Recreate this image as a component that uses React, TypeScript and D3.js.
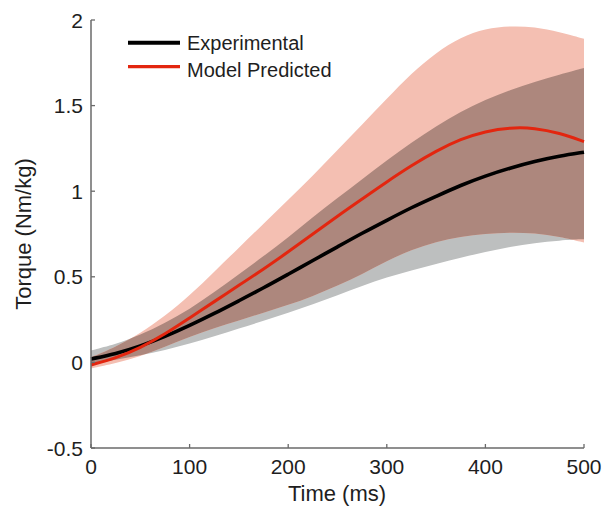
import React from "react";
import * as d3 from "d3";

const times = [0, 25, 50, 75, 100, 125, 150, 175, 200, 225, 250, 275, 300, 325, 350, 375, 400, 425, 450, 475, 500];
const expMean = [0.02, 0.05, 0.095, 0.15, 0.215, 0.285, 0.36, 0.435, 0.515, 0.595, 0.675, 0.755, 0.83, 0.905, 0.97, 1.035, 1.09, 1.135, 1.175, 1.205, 1.228];
const expUpper = [0.07, 0.105, 0.16, 0.23, 0.31, 0.41, 0.515, 0.62, 0.73, 0.85, 0.96, 1.07, 1.18, 1.285, 1.38, 1.465, 1.535, 1.59, 1.64, 1.68, 1.72];
const expLower = [-0.01, 0.015, 0.04, 0.072, 0.11, 0.152, 0.198, 0.243, 0.29, 0.34, 0.392, 0.447, 0.498, 0.538, 0.575, 0.612, 0.645, 0.675, 0.698, 0.712, 0.72];
const modelMean = [-0.015, 0.025, 0.085, 0.165, 0.26, 0.355, 0.45, 0.545, 0.645, 0.75, 0.855, 0.955, 1.055, 1.15, 1.235, 1.305, 1.35, 1.372, 1.37, 1.34, 1.29];
const modelUpper = [0.03, 0.09, 0.17, 0.27, 0.39, 0.53, 0.67, 0.81, 0.95, 1.09, 1.24, 1.39, 1.54, 1.69, 1.81, 1.9, 1.95, 1.965, 1.96, 1.93, 1.89];
const modelLower = [-0.035, -0.005, 0.035, 0.09, 0.15, 0.2, 0.245, 0.29, 0.335, 0.387, 0.448, 0.515, 0.593, 0.658, 0.705, 0.735, 0.752, 0.76, 0.755, 0.735, 0.7];

const xTicks = [0, 100, 200, 300, 400, 500];
const yTicks = [-0.5, 0, 0.5, 1, 1.5, 2];
const legendLabels = ["Experimental", "Model Predicted"];

const FONT = "'Liberation Sans', Arial, Helvetica, sans-serif";
const AXIS = "#6a6a6a";
const TEXT = "#1e1e1e";

export default function App() {
  const x = d3.scaleLinear().domain([0, 500]).range([91, 584]);
  const y = d3.scaleLinear().domain([-0.5, 2]).range([448, 20]);
  const idx = times.map((_, i) => i);
  const curve = d3.curveBasis;

  const band = (lo: number[], hi: number[]) =>
    d3.area<number>()
      .x((i) => x(times[i]))
      .y0((i) => y(lo[i]))
      .y1((i) => y(hi[i]))
      .curve(curve)(idx) || "";
  const line = (v: number[]) =>
    d3.line<number>()
      .x((i) => x(times[i]))
      .y((i) => y(v[i]))
      .curve(curve)(idx) || "";

  const expBand = band(expLower, expUpper);
  const modelBand = band(modelLower, modelUpper);

  return (
    <svg width={608} height={516} style={{ position: "absolute", left: 0, top: 0, background: "#fff" }}>
      <defs>
        <clipPath id="expClip">
          <path d={expBand} />
        </clipPath>
      </defs>
      <rect x={0} y={0} width={608} height={516} fill="#fff" />
      <path d={expBand} fill="#bdbfbf" />
      <path d={modelBand} fill="#f4bfb2" />
      <path d={modelBand} fill="#ad877d" clipPath="url(#expClip)" />
      <path d={line(expMean)} fill="none" stroke="#000" strokeWidth={3.6} />
      <path d={line(modelMean)} fill="none" stroke="#e3260f" strokeWidth={3} />

      <line x1={x(0)} x2={x(0)} y1={y(2)} y2={y(-0.5)} stroke={AXIS} strokeWidth={1.5} />
      <line x1={x(0)} x2={x(500)} y1={y(-0.5)} y2={y(-0.5)} stroke={AXIS} strokeWidth={1.5} />
      {yTicks.map((t) => (
        <g key={"y" + t}>
          <line x1={x(0)} x2={x(0) + 4} y1={y(t)} y2={y(t)} stroke={AXIS} strokeWidth={1.3} />
          <text x={83} y={y(t) + 7.5} textAnchor="end" fontFamily={FONT} fontSize={21} fill={TEXT}>
            {String(t)}
          </text>
        </g>
      ))}
      {xTicks.map((t) => (
        <g key={"x" + t}>
          <line x1={x(t)} x2={x(t)} y1={y(-0.5)} y2={y(-0.5) - 4} stroke={AXIS} strokeWidth={1.3} />
          <text x={x(t)} y={474} textAnchor="middle" fontFamily={FONT} fontSize={21} fill={TEXT}>
            {String(t)}
          </text>
        </g>
      ))}
      <text x={337} y={501} textAnchor="middle" fontFamily={FONT} fontSize={22} fill={TEXT}>
        Time (ms)
      </text>
      <text
        transform={`translate(31,${234}) rotate(-90)`}
        textAnchor="middle"
        fontFamily={FONT}
        fontSize={22}
        fill={TEXT}
      >
        Torque (Nm/kg)
      </text>

      <line x1={128} x2={180} y1={42.7} y2={42.7} stroke="#000" strokeWidth={4} />
      <line x1={128} x2={180} y1={66.7} y2={66.7} stroke="#e3260f" strokeWidth={3.2} />
      <text x={187} y={50} fontFamily={FONT} fontSize={20} fill={TEXT}>{legendLabels[0]}</text>
      <text x={187} y={77} fontFamily={FONT} fontSize={20} fill={TEXT}>{legendLabels[1]}</text>
    </svg>
  );
}
